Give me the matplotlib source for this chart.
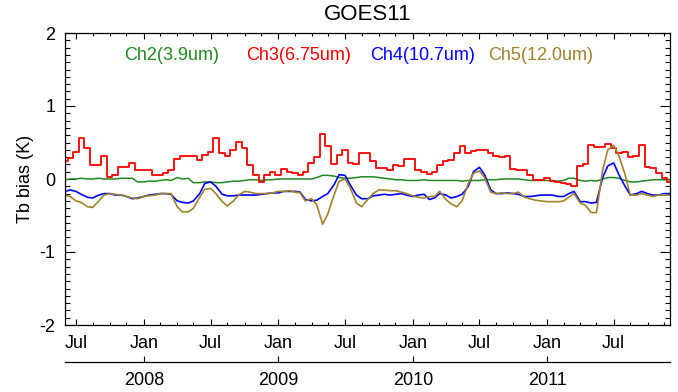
import pandas as pd
import numpy as np
import matplotlib
matplotlib.use("Agg")
import matplotlib.pyplot as plt
import matplotlib.dates as mdates
from matplotlib.ticker import MultipleLocator, FixedLocator

plt.rcParams["font.family"] = ["Liberation Sans", "DejaVu Sans"]
plt.rcParams["axes.unicode_minus"] = False

# semi-monthly samples starting 2007-06-01
dates = pd.date_range("2007-06-01", periods=109, freq="SMS")

ch2 = [-0.01, 0.0, 0.0, 0.01, 0.0, 0.0, 0.01, 0.0, 0.0, 0.0, 0.01, 0.01, 0.01, -0.04, -0.04, -0.03, -0.03, -0.02, -0.01, -0.02, 0.02, 0.0,
       0.01, -0.05, -0.05, -0.04, -0.04, -0.05, -0.05, -0.04, -0.03, -0.03, -0.02, -0.01, -0.01, -0.02, -0.01, -0.01, 0.0, 0.0, 0.0, 0.0, 0.0, 0.0,
       0.0, 0.02, 0.05, 0.05, 0.04, 0.02, 0.01, 0.01, 0.02, 0.03, 0.03, 0.03, 0.02, 0.01, 0.0, -0.01, -0.01, -0.02, -0.02, -0.02, -0.01, -0.02,
       -0.02, -0.02, -0.02, -0.02, -0.02, -0.03, -0.02, -0.02, -0.02, -0.01, -0.01, -0.01, 0.0, 0.0, 0.0, 0.0, -0.01, -0.02, -0.02, -0.02, -0.02, -0.02,
       -0.03, -0.02, 0.01, 0.01, -0.02, -0.03, -0.02, -0.03, 0.0, 0.02, 0.02, 0.01, -0.02, -0.04, -0.04, -0.03, -0.02, -0.01, -0.01, -0.01, -0.01]

ch3 = [0.25, 0.29, 0.37, 0.56, 0.42, 0.19, 0.19, 0.32, 0.03, 0.05, 0.17, 0.17, 0.22, 0.12, 0.12, 0.12, 0.055, 0.06, 0.08, 0.12, 0.28, 0.32,
       0.32, 0.31, 0.26, 0.33, 0.37, 0.56, 0.35, 0.32, 0.40, 0.51, 0.42, 0.19, 0.055, -0.045, 0.06, 0.09, 0.06, 0.14, 0.09, 0.08, 0.06, 0.09,
       0.22, 0.30, 0.62, 0.45, 0.20, 0.33, 0.40, 0.22, 0.20, 0.35, 0.35, 0.25, 0.15, 0.15, 0.12, 0.19, 0.18, 0.28, 0.28, 0.12, 0.09, 0.07,
       0.10, 0.19, 0.25, 0.26, 0.35, 0.45, 0.36, 0.38, 0.40, 0.40, 0.35, 0.32, 0.30, 0.32, 0.14, 0.12, 0.12, 0.06, -0.01, -0.01, 0.02, -0.03,
       -0.04, -0.06, -0.07, -0.10, 0.18, 0.20, 0.46, 0.44, 0.44, 0.48, 0.42, 0.36, 0.37, 0.30, 0.32, 0.47, 0.17, 0.15, 0.08, 0.01, -0.04]

ch4 = [-0.17, -0.15, -0.17, -0.21, -0.25, -0.26, -0.22, -0.20, -0.20, -0.22, -0.22, -0.24, -0.27, -0.26, -0.24, -0.22, -0.21, -0.20, -0.20, -0.21, -0.30, -0.32,
       -0.33, -0.30, -0.20, -0.06, -0.04, -0.10, -0.21, -0.23, -0.23, -0.22, -0.22, -0.22, -0.22, -0.21, -0.20, -0.19, -0.19, -0.17, -0.17, -0.17, -0.18, -0.28,
       -0.30, -0.29, -0.24, -0.20, -0.08, 0.06, 0.05, -0.08, -0.22, -0.27, -0.27, -0.23, -0.22, -0.21, -0.22, -0.21, -0.20, -0.22, -0.24, -0.22, -0.21, -0.28,
       -0.26, -0.20, -0.22, -0.26, -0.24, -0.21, -0.10, 0.10, 0.16, 0.06, -0.15, -0.20, -0.20, -0.19, -0.20, -0.21, -0.24, -0.24, -0.23, -0.22, -0.22, -0.22,
       -0.24, -0.24, -0.20, -0.17, -0.31, -0.31, -0.33, -0.32, 0.02, 0.18, 0.22, 0.06, -0.10, -0.22, -0.20, -0.17, -0.20, -0.22, -0.22, -0.20, -0.20]

ch5 = [-0.22, -0.24, -0.30, -0.32, -0.38, -0.39, -0.30, -0.22, -0.20, -0.21, -0.22, -0.24, -0.26, -0.27, -0.24, -0.23, -0.22, -0.20, -0.20, -0.20, -0.38, -0.45,
       -0.45, -0.40, -0.25, -0.14, -0.13, -0.20, -0.31, -0.37, -0.30, -0.22, -0.17, -0.18, -0.20, -0.20, -0.20, -0.19, -0.17, -0.17, -0.16, -0.18, -0.19, -0.30,
       -0.27, -0.35, -0.62, -0.48, -0.22, -0.03, 0.0, -0.12, -0.33, -0.38, -0.28, -0.20, -0.15, -0.15, -0.16, -0.16, -0.18, -0.20, -0.23, -0.25, -0.26, -0.24,
       -0.24, -0.17, -0.28, -0.34, -0.38, -0.30, -0.06, 0.08, 0.11, 0.02, -0.18, -0.20, -0.19, -0.20, -0.20, -0.18, -0.25, -0.27, -0.29, -0.30, -0.31, -0.31,
       -0.31, -0.30, -0.25, -0.20, -0.33, -0.36, -0.46, -0.46, 0.12, 0.40, 0.46, 0.32, 0.06, -0.22, -0.22, -0.20, -0.22, -0.24, -0.22, -0.22, -0.22]

labels = ["Ch2(3.9um)", "Ch3(6.75um)", "Ch4(10.7um)", "Ch5(12.0um)"]
colors = ["#1f8a1f", "#ff0000", "#0000ff", "#a0822d"]
label_x = [124, 246, 370, 488]  # left edge of each label, pixels

fig = plt.figure(figsize=(6.78, 3.92), dpi=100)
ax = fig.add_axes([65 / 678, 1 - 325 / 392, 605 / 678, 292 / 392])

ax.plot(dates, ch2, color=colors[0], lw=1.1)
ax.plot(dates, ch3, color=colors[1], lw=1.3, drawstyle="steps-mid")
ax.plot(dates, ch4, color=colors[2], lw=1.2)
ax.plot(dates, ch5, color=colors[3], lw=1.2)

ax.set_xlim(pd.Timestamp("2007-06-01"), pd.Timestamp("2011-12-01"))
ax.set_ylim(-2, 2)

ax.yaxis.set_major_locator(MultipleLocator(1))
ax.yaxis.set_minor_locator(MultipleLocator(0.1))
ax.tick_params(axis="y", which="major", direction="in", length=7.2, width=0.8,
               right=True, labelsize=13, pad=7)
ax.tick_params(axis="y", which="minor", direction="in", length=3.6, width=0.8, right=True)

ax.xaxis.set_major_locator(mdates.MonthLocator(bymonth=[1, 7]))
ax.xaxis.set_major_formatter(mdates.DateFormatter("%b"))
minor = []
for yr in range(2007, 2012):
    for md in ["02-15", "04-01", "05-15", "08-15", "10-01", "11-15"]:
        minor.append(mdates.date2num(pd.Timestamp(f"{yr}-{md}")))
ax.xaxis.set_minor_locator(FixedLocator(minor))
ax.tick_params(axis="x", which="major", direction="in", length=4, width=0.8,
               top=True, labelsize=13, pad=7)
ax.tick_params(axis="x", which="minor", direction="in", length=2.5, width=0.8, top=True)

for s in ax.spines.values():
    s.set_linewidth(0.9)

ax.set_ylabel("Tb bias (K)", fontsize=13, labelpad=4)
ax.set_title("GOES11", fontsize=16, pad=9)

for lab, c, xp in zip(labels, colors, label_x):
    fig.text(xp / 678, 1 - 55 / 392, lab, color=c, fontsize=13, ha="left", va="center")

# year axis below
sec = ax.secondary_xaxis(-0.127)
sec.xaxis.set_major_locator(FixedLocator([mdates.date2num(pd.Timestamp(f"{y}-01-01")) for y in range(2008, 2012)]))
sec.xaxis.set_major_formatter(mdates.DateFormatter("%Y"))
sec.tick_params(axis="x", direction="in", length=4, width=0.8, labelsize=13, pad=7)
sec.spines["bottom"].set_linewidth(0.9)

fig.savefig("out.png", dpi=100)
